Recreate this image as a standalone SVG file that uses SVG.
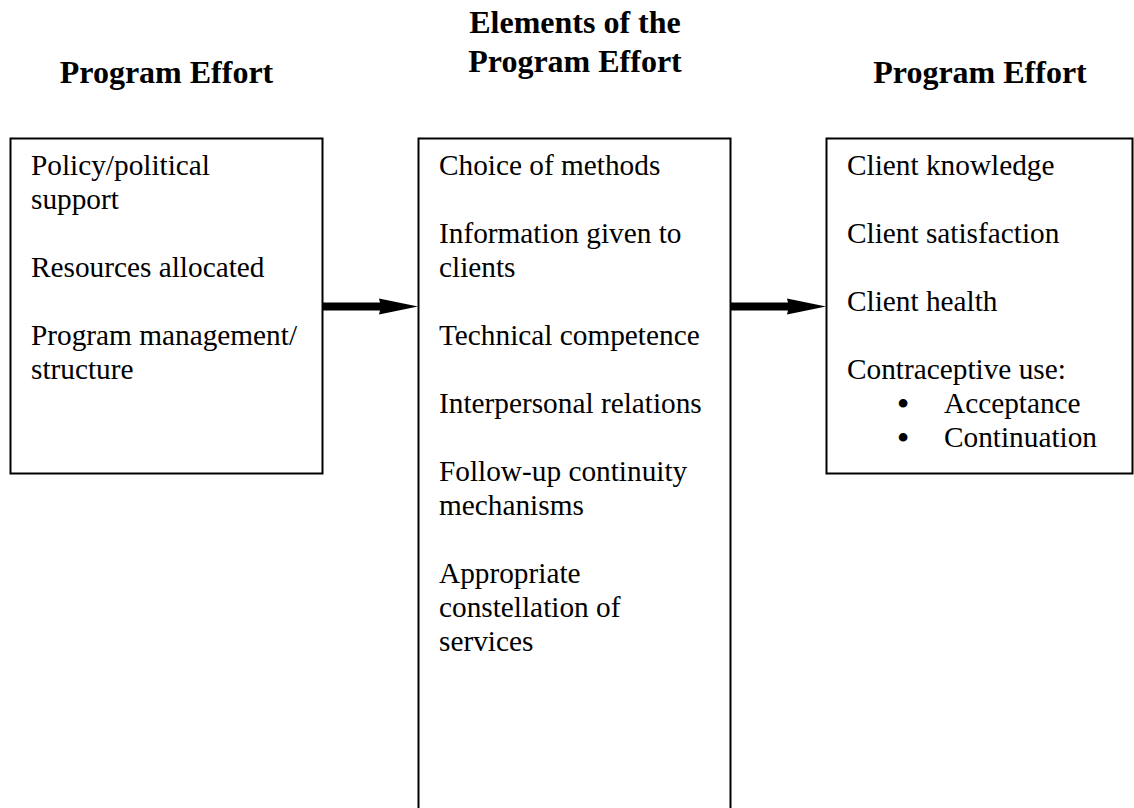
<svg xmlns="http://www.w3.org/2000/svg" width="1134" height="808" viewBox="0 0 1134 808">
<style>
.box{fill:#fff;stroke:#000;stroke-width:2}
.h{font-family:"Liberation Serif","Times New Roman",serif;font-weight:bold;font-size:32px;fill:#000;text-anchor:middle}
.t{font-family:"Liberation Serif","Times New Roman",serif;font-size:29.3px;fill:#000}
.b{font-family:"Liberation Serif","Times New Roman",serif;font-size:32px;font-weight:bold;fill:#000;text-anchor:middle}
.arrow{fill:#000}
</style>
<rect width="1134" height="808" fill="#fff"/>
<g id="heading-left"><text class="h" x="166.5" y="83">Program Effort</text></g>
<g id="heading-middle"><text class="h" x="575" y="33">Elements of the</text><text class="h" x="575" y="72">Program Effort</text></g>
<g id="heading-right"><text class="h" x="980" y="83">Program Effort</text></g>
<g id="node-left">
<rect class="box" x="10.5" y="138.5" width="312" height="335"/>
<text class="t" x="31" y="175">Policy/political</text>
<text class="t" x="31" y="209">support</text>
<text class="t" x="31" y="277">Resources allocated</text>
<text class="t" x="31" y="345">Program management/</text>
<text class="t" x="31" y="379">structure</text>
</g>
<g id="node-middle">
<rect class="box" x="418.5" y="138.5" width="312" height="680"/>
<text class="t" x="439" y="175">Choice of methods</text>
<text class="t" x="439" y="243">Information given to</text>
<text class="t" x="439" y="277">clients</text>
<text class="t" x="439" y="345">Technical competence</text>
<text class="t" x="439" y="413">Interpersonal relations</text>
<text class="t" x="439" y="481">Follow-up continuity</text>
<text class="t" x="439" y="515">mechanisms</text>
<text class="t" x="439" y="583">Appropriate</text>
<text class="t" x="439" y="617">constellation of</text>
<text class="t" x="439" y="651">services</text>
</g>
<g id="node-right">
<rect class="box" x="826.5" y="138.5" width="306" height="335"/>
<text class="t" x="847" y="175">Client knowledge</text>
<text class="t" x="847" y="243">Client satisfaction</text>
<text class="t" x="847" y="311">Client health</text>
<text class="t" x="847" y="379">Contraceptive use:</text>
<text class="b" x="903" y="414">•</text>
<text class="t" x="944" y="413">Acceptance</text>
<text class="b" x="903" y="448">•</text>
<text class="t" x="944" y="447">Continuation</text>
</g>
<g id="connectors">
<polygon class="arrow" points="323,302.5 380,302.5 379,298.5 418,306.5 379,314.5 380,310.5 323,310.5"/>
<polygon class="arrow" points="731,302.5 788,302.5 787,298.5 826,306.5 787,314.5 788,310.5 731,310.5"/>
</g>
</svg>
